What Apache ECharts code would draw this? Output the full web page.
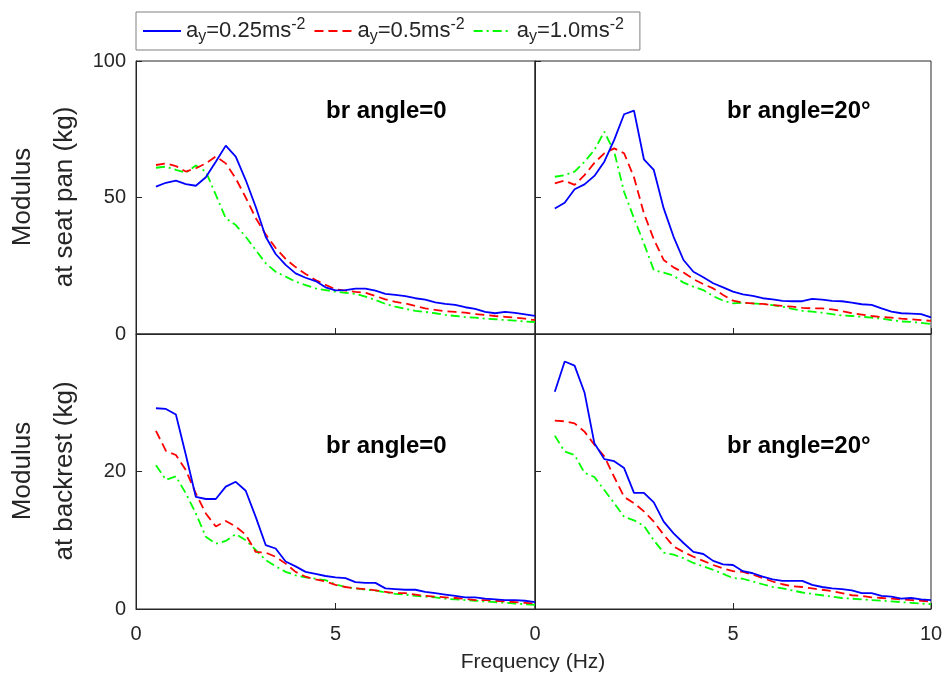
<!DOCTYPE html>
<html>
<head>
<meta charset="utf-8">
<script src="https://cdn.jsdelivr.net/npm/echarts@6/dist/echarts.min.js"></script>
<style>
  html, body { margin: 0; background: #fff; }
  #chart { width: 950px; height: 677px; }
</style>
</head>
<body>
<div id="chart"></div>
<script>
// frequency points (Hz)
const freqs = [0.5, 0.75, 1.0, 1.25, 1.5, 1.75, 2.0, 2.25, 2.5, 2.75, 3.0, 3.25, 3.5, 3.75, 4.0,
  4.25, 4.5, 4.75, 5.0, 5.25, 5.5, 5.75, 6.0, 6.25, 6.5, 6.75, 7.0, 7.25, 7.5, 7.75, 8.0,
  8.25, 8.5, 8.75, 9.0, 9.25, 9.5, 9.75, 10.0];

const seriesNames = ['ay025', 'ay05', 'ay10'];

// seat pan, br angle = 0
const seatA0_025 = [54.0, 55.4, 56.2, 54.9, 54.3, 57.4, 63.1, 69.0, 65.0, 56.4, 46.6, 35.6, 29.3, 25.3, 22.2,
  20.6, 19.4, 17.1, 16.0, 16.1, 16.6, 16.6, 15.9, 14.7, 14.3, 13.9, 13.1, 12.6, 11.6, 11.0, 10.7,
  9.8, 9.2, 8.1, 7.6, 8.1, 7.7, 7.2, 6.6];
const seatA0_05 = [61.9, 62.5, 61.5, 59.5, 60.7, 62.5, 65.0, 62.5, 57.0, 50.0, 42.5, 36.5, 31.5, 27.5, 24.5,
  22.0, 19.8, 18.0, 16.4, 15.9, 15.4, 15.1, 13.9, 12.7, 11.8, 11.2, 10.3, 9.4, 8.8, 8.3, 8.1,
  7.8, 7.3, 7.0, 6.6, 6.3, 6.0, 5.6, 5.1];
const seatA0_10 = [60.9, 61.3, 60.1, 59.1, 61.7, 59.5, 51.0, 42.4, 39.9, 35.6, 30.8, 25.9, 22.8, 21.0, 19.2,
  17.9, 16.7, 16.1, 15.5, 15.1, 14.7, 13.7, 12.5, 11.0, 10.0, 9.2, 8.5, 8.1, 7.6, 7.0, 6.6,
  6.2, 6.0, 5.6, 5.4, 5.1, 4.9, 4.6, 4.4];

// seat pan, br angle = 20
const seatA20_025 = [46.0, 48.1, 53.0, 54.8, 57.9, 63.1, 71.1, 80.5, 81.8, 64.0, 60.1, 46.0, 35.6, 27.1, 22.8,
  20.8, 18.6, 17.1, 15.5, 14.5, 14.0, 13.1, 12.7, 12.1, 12.0, 12.0, 12.9, 12.6, 12.1, 12.0, 11.5,
  10.9, 10.7, 9.4, 8.2, 7.6, 7.5, 7.3, 6.1];
const seatA20_05 = [55.2, 56.2, 54.6, 58.2, 62.7, 66.2, 68.0, 66.2, 57.4, 44.2, 34.7, 27.1, 24.4, 22.5, 20.1,
  18.3, 16.7, 14.3, 12.2, 11.5, 11.2, 11.0, 10.6, 10.3, 10.0, 9.6, 9.4, 9.4, 9.0, 8.4, 7.6,
  7.1, 6.6, 6.2, 6.0, 5.6, 5.4, 5.1, 4.8];
const seatA20_10 = [57.6, 58.2, 59.5, 63.1, 67.4, 74.1, 66.8, 52.0, 42.4, 33.2, 23.4, 22.5, 21.4, 18.8, 17.3,
  16.1, 13.9, 12.2, 11.2, 11.5, 11.2, 11.0, 10.6, 10.0, 9.2, 8.5, 8.2, 7.8, 7.3, 6.8, 6.6,
  6.3, 6.0, 5.6, 5.1, 4.6, 4.4, 4.1, 3.7];

// backrest, br angle = 0
const backA0_025 = [29.2, 29.1, 28.3, 22.4, 16.3, 16.0, 16.0, 17.8, 18.5, 17.2, 13.4, 9.3, 8.8, 6.9, 6.2,
  5.4, 5.1, 4.8, 4.6, 4.5, 3.9, 3.8, 3.8, 3.0, 2.9, 2.8, 2.8, 2.5, 2.3, 2.1, 1.9,
  1.7, 1.7, 1.5, 1.4, 1.3, 1.3, 1.2, 1.0];
const backA0_05 = [25.9, 23.0, 22.4, 20.2, 16.8, 13.9, 12.0, 12.8, 12.0, 10.8, 8.3, 8.2, 7.6, 6.6, 5.4,
  4.7, 4.3, 4.0, 3.5, 3.2, 3.0, 2.9, 2.7, 2.5, 2.3, 2.3, 2.1, 1.9, 1.8, 1.7, 1.6,
  1.5, 1.3, 1.3, 1.2, 1.1, 1.0, 0.9, 0.8];
const backA0_10 = [20.9, 18.8, 19.3, 16.8, 13.9, 10.5, 9.5, 9.9, 10.9, 10.0, 8.6, 7.1, 6.2, 5.4, 4.9,
  4.6, 4.4, 4.2, 3.6, 3.2, 3.0, 2.8, 2.7, 2.4, 2.2, 2.1, 1.9, 1.8, 1.7, 1.5, 1.4,
  1.3, 1.2, 1.1, 1.0, 0.9, 0.8, 0.7, 0.6];

// backrest, br angle = 20
const backA20_025 = [31.6, 36.0, 35.4, 31.5, 24.1, 21.8, 21.5, 20.5, 16.9, 16.9, 15.5, 12.7, 11.0, 9.6, 8.3,
  8.0, 7.0, 6.5, 6.4, 5.5, 5.2, 4.7, 4.3, 4.1, 4.1, 4.1, 3.5, 3.2, 3.0, 2.9, 2.7,
  2.3, 2.3, 1.9, 1.8, 1.5, 1.6, 1.4, 1.3];
const backA20_05 = [27.4, 27.3, 27.0, 25.8, 23.9, 22.2, 19.2, 16.3, 15.4, 14.2, 12.7, 10.8, 9.1, 8.3, 7.6,
  7.0, 6.4, 5.9, 5.5, 5.4, 5.0, 4.5, 4.0, 3.6, 3.3, 3.2, 3.0, 2.8, 2.6, 2.3, 2.0,
  1.9, 1.7, 1.6, 1.5, 1.4, 1.3, 1.2, 1.1];
const backA20_10 = [25.2, 22.9, 22.4, 19.8, 19.2, 17.3, 15.4, 13.4, 12.9, 12.1, 10.0, 8.2, 7.9, 7.4, 6.7,
  6.2, 5.7, 5.1, 4.5, 4.4, 4.0, 3.6, 3.2, 3.0, 2.7, 2.4, 2.2, 2.0, 1.8, 1.6, 1.5,
  1.4, 1.3, 1.2, 1.1, 1.0, 0.9, 0.8, 0.7];

const panelLabels = ['br angle=0', 'br angle=20°', 'br angle=0', 'br angle=20°'];
const yTitles = ['Modulus\nat seat pan (kg)', 'Modulus\nat backrest (kg)'];
const xTitle = 'Frequency (Hz)';

const panels = [
  [seatA0_025, seatA0_05, seatA0_10],
  [seatA20_025, seatA20_05, seatA20_10],
  [backA0_025, backA0_05, backA0_10],
  [backA20_025, backA20_05, backA20_10]
];

const font = '"Liberation Sans", Arial, sans-serif';
const ink = '#262626';

const lineStyles = [
  { color: '#0000ff', width: 1.8, type: 'solid' },
  { color: '#ff0000', width: 1.8, type: [9, 5] },
  { color: '#00ff00', width: 1.8, type: [9, 4, 2, 4] }
];

const grids = [
  { left: 136, top: 61, width: 399, height: 273 },
  { left: 535, top: 61, width: 396, height: 273 },
  { left: 136, top: 334, width: 399, height: 275 },
  { left: 535, top: 334, width: 396, height: 275 }
].map(g => Object.assign(g, { show: true, borderColor: ink, borderWidth: 1, containLabel: false }));

const xAxes = grids.map((g, i) => ({
  type: 'value', gridIndex: i, min: 0, max: 10, interval: 5,
  axisLine: { show: true, onZero: false, lineStyle: { color: ink } },
  axisTick: { show: true, inside: true, length: 6, lineStyle: { color: ink } },
  splitLine: { show: false },
  axisLabel: {
    show: i >= 2, color: ink, fontSize: 20, fontFamily: font, margin: 15,
    showMaxLabel: i === 3
  }
}));

const yAxes = grids.map((g, i) => ({
  type: 'value', gridIndex: i, min: 0, max: i < 2 ? 100 : 40, interval: i < 2 ? 50 : 20,
  axisLine: { show: true, lineStyle: { color: ink } },
  axisTick: { show: true, inside: true, length: 6, lineStyle: { color: ink } },
  splitLine: { show: false },
  axisLabel: {
    show: i % 2 === 0, color: ink, fontSize: 20, fontFamily: font, margin: 10,
    showMaxLabel: i === 0
  }
}));

const series = [];
panels.forEach((sets, p) => {
  sets.forEach((vals, k) => {
    series.push({
      name: seriesNames[k], type: 'line', xAxisIndex: p, yAxisIndex: p,
      data: freqs.map((f, j) => [f, vals[j]]),
      symbol: 'none', lineStyle: lineStyles[k], itemStyle: { color: lineStyles[k].color },
      z: 3 - k, animation: false
    });
  });
});

const legendText = { ay025: '0.25', ay05: '0.5', ay10: '1.0' };

const titles = panelLabels.map((t, i) => ({
  text: t, left: i % 2 === 0 ? 326 : 727, top: i < 2 ? 99 : 434, padding: 0,
  textStyle: { fontSize: 24, fontWeight: 'bold', fontFamily: font, color: '#000' }
}));

const chart = echarts.init(document.getElementById('chart'));
chart.setOption({
  backgroundColor: '#fff',
  animation: false,
  title: titles,
  grid: grids,
  xAxis: xAxes,
  yAxis: yAxes,
  legend: {
    left: 136, top: 12,
    data: seriesNames,
    itemWidth: 38, itemHeight: 14, itemGap: 8,
    padding: [5, 16, 5, 6],
    borderColor: '#808080', borderWidth: 1,
    itemStyle: { opacity: 0 },
    formatter: name => '{m|a}{s|y}{m|=' + legendText[name] + 'ms}{p|-2}',
    textStyle: {
      color: ink, fontFamily: font, fontSize: 22,
      rich: {
        m: { fontSize: 22, fontFamily: font, color: ink, lineHeight: 28 },
        s: { fontSize: 16, fontFamily: font, color: ink, lineHeight: 10, verticalAlign: 'bottom' },
        p: { fontSize: 16, fontFamily: font, color: ink, lineHeight: 12, verticalAlign: 'top' }
      }
    }
  },
  graphic: [
    {
      type: 'text', x: 44, y: 197, rotation: Math.PI / 2,
      style: { text: yTitles[0], font: '26px ' + font, fill: ink, align: 'center', verticalAlign: 'middle', lineHeight: 42 }
    },
    {
      type: 'text', x: 44, y: 471, rotation: Math.PI / 2,
      style: { text: yTitles[1], font: '26px ' + font, fill: ink, align: 'center', verticalAlign: 'middle', lineHeight: 42 }
    },
    {
      type: 'text', x: 533, y: 662,
      style: { text: xTitle, font: '21px ' + font, fill: ink, align: 'center', verticalAlign: 'middle' }
    }
  ],
  series: series
});
</script>
</body>
</html>
